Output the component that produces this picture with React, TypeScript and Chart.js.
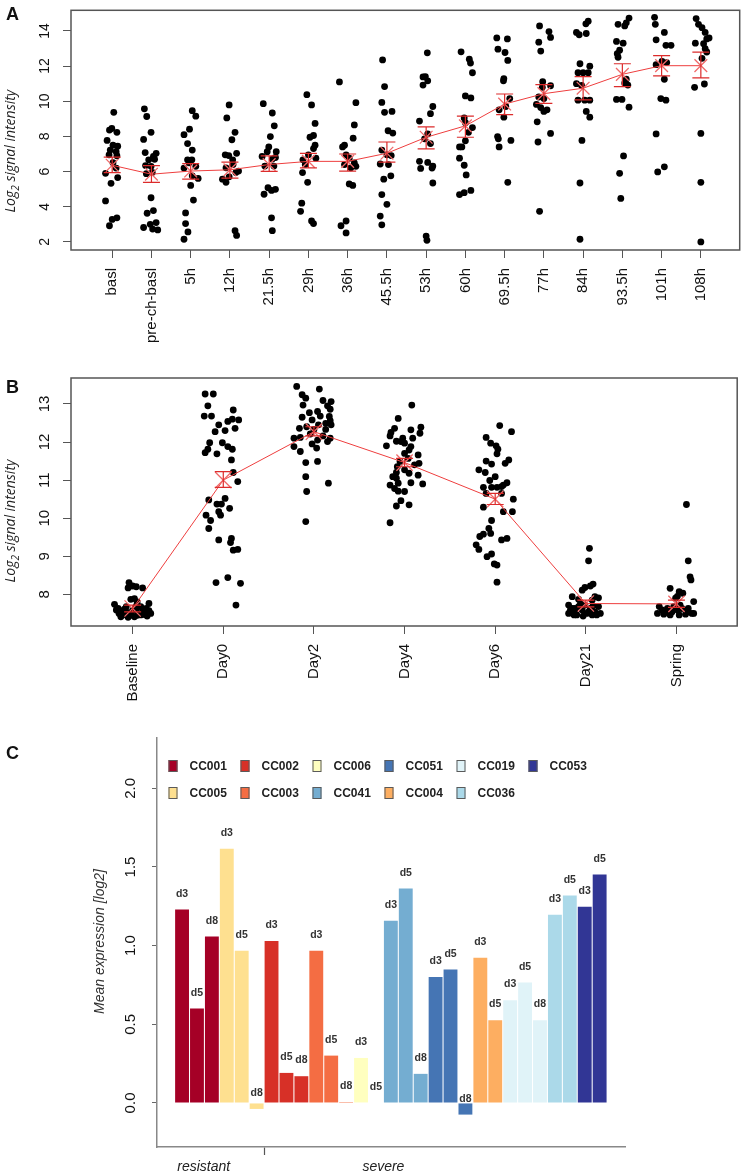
import React, { useEffect, useRef } from 'react';
import { Chart, registerables } from 'chart.js';

Chart.register(...registerables);

const FONT = '"Liberation Sans", Arial, Helvetica, sans-serif';
Chart.defaults.font.family = FONT;

// ---------------- Panel A data ----------------
const aCategories = ['basl', 'pre-ch-basl', '5h', '12h', '21.5h', '29h', '36h', '45.5h', '53h', '60h', '69.5h', '77h', '84h', '93.5h', '101h', '108h'];
const aYTicks = [2, 4, 6, 8, 10, 12, 14];
const aMeans = [6.36, 5.85, 6.03, 6.1, 6.4, 6.58, 6.58, 7.04, 7.95, 8.6, 9.84, 10.43, 10.74, 11.53, 12.02, 12.02];
const aUpper = [6.82, 6.34, 6.45, 6.54, 6.89, 7.04, 7.0, 7.68, 8.54, 9.15, 10.41, 10.94, 11.4, 12.13, 12.59, 12.79];
const aLower = [5.94, 5.39, 5.57, 5.63, 6.01, 6.21, 6.03, 6.54, 7.29, 7.95, 9.24, 9.88, 10.08, 10.83, 11.44, 11.33];
// [jitter offset, value] per sample, one list per time point
const aPoints = [
  [[0.04,9.37],[-0.07,8.36],[-0.01,8.45],[0.12,8.23],[-0.13,7.77],[0.02,7.5],[0.14,7.44],[-0.05,7.22],[0.1,7.13],[-0.08,6.95],[0.12,6.9],[0.02,6.5],[-0.17,5.9],[0.1,6.2],[-0.03,5.33],[0.14,5.66],[-0.17,4.33],[0,3.28],[-0.07,2.92],[0.12,3.37]],
  [[-0.18,9.57],[-0.12,9.13],[-0.01,8.23],[-0.2,7.83],[-0.16,7.08],[0.12,7.04],[0.05,6.86],[-0.07,6.67],[0.08,6.7],[-0.15,6.34],[-0.01,6.3],[-0.13,5.88],[0.02,5.95],[-0.01,4.51],[-0.11,3.63],[0.05,3.78],[-0.03,3.0],[0.12,3.1],[-0.2,2.82],[0.03,2.73],[0.16,2.68]],
  [[0.04,9.46],[0.13,9.15],[-0.03,8.41],[-0.17,8.1],[-0.08,7.59],[0.04,7.22],[-0.08,6.67],[0.03,6.67],[0.13,6.3],[-0.17,6.2],[-0.04,6.5],[0.04,5.76],[0.19,5.61],[0,5.21],[0.07,4.38],[-0.13,3.65],[-0.13,3.04],[-0.07,2.57],[-0.17,2.15]],
  [[-0.02,9.79],[-0.08,9.05],[0.13,8.23],[0.05,7.81],[-0.12,6.95],[-0.03,6.91],[0.17,7.04],[0.07,6.67],[-0.1,6.21],[0.08,6.4],[0.22,6.03],[0.15,5.94],[-0.19,5.57],[-0.1,5.39],[-0.02,5.7],[0.13,2.64],[0.17,2.37]],
  [[-0.15,9.86],[0.08,9.33],[0.13,8.6],[0.03,7.99],[-0.01,7.4],[-0.05,7.13],[0.18,7.13],[-0.18,6.86],[0.08,6.71],[-0.11,6.31],[0.12,6.31],[0.16,6.8],[-0.03,5.08],[0.16,4.99],[-0.13,4.71],[0.06,4.93],[0.06,3.37],[0.08,2.64]],
  [[-0.04,10.37],[0.08,9.79],[0.17,8.74],[0.04,7.95],[0.13,8.05],[0.17,7.5],[0.13,7.31],[-0.14,6.67],[0,6.95],[0.19,6.76],[-0.08,6.4],[-0.15,5.94],[-0.02,5.39],[-0.17,4.2],[-0.2,3.74],[0.08,3.19],[0.13,3.04]],
  [[-0.21,11.1],[0.21,9.92],[0.17,8.65],[0.14,7.9],[-0.08,7.5],[-0.13,7.4],[-0.04,6.95],[0.04,6.76],[0.17,6.49],[0.08,6.21],[-0.08,6.4],[0.21,6.3],[0.04,5.3],[0.13,5.21],[-0.04,3.19],[-0.17,2.92],[-0.04,2.51]],
  [[-0.11,12.35],[-0.06,10.83],[-0.13,9.93],[-0.06,9.37],[0.13,9.42],[0.03,8.32],[0.15,8.19],[-0.13,7.22],[0,6.95],[0.11,6.91],[-0.17,6.43],[0.04,6.4],[-0.08,5.57],[0.1,5.76],[-0.13,4.69],[0,4.14],[-0.17,3.47],[-0.13,2.97]],
  [[0.03,12.75],[-0.08,11.38],[-0.02,11.4],[0.04,11.16],[-0.08,10.92],[0.17,9.7],[0.11,9.29],[-0.17,8.87],[0.04,8.14],[-0.04,7.86],[0.11,7.59],[-0.17,6.58],[0.04,6.52],[0.17,6.31],[-0.14,6.18],[0.15,6.2],[0.17,5.35],[0,2.33],[0.02,2.09]],
  [[-0.11,12.81],[0.1,12.39],[0.13,12.17],[0.18,11.62],[0,10.3],[0.14,10.19],[-0.03,9.05],[0,8.78],[0.18,8.5],[0.08,8.23],[-0.15,7.4],[-0.09,7.4],[0,7.75],[-0.15,6.76],[-0.03,6.36],[0.02,5.81],[-0.15,4.69],[-0.03,4.8],[0.14,4.93]],
  [[-0.2,13.6],[0.07,13.54],[-0.17,12.96],[0.01,12.77],[0.08,12.32],[-0.02,11.29],[-0.03,11.16],[0.13,10.15],[0.03,9.7],[-0.14,9.51],[-0.02,9.09],[-0.18,7.99],[-0.16,7.86],[0.16,7.77],[-0.14,7.4],[0.08,5.39]],
  [[-0.11,14.28],[0.13,13.96],[0.17,13.63],[-0.13,13.36],[-0.08,12.85],[-0.03,11.11],[-0.04,10.79],[0.17,10.88],[-0.13,10.24],[0,10.15],[-0.19,9.82],[-0.08,9.64],[0,9.42],[0.08,9.51],[-0.17,8.83],[0.17,8.17],[-0.15,7.68],[-0.11,3.74]],
  [[0.13,14.55],[0.07,14.4],[0.08,13.85],[-0.17,13.91],[-0.1,13.78],[-0.08,12.13],[0.17,11.99],[-0.13,11.62],[0,11.62],[0.13,11.62],[-0.17,11.0],[-0.04,10.9],[-0.13,10.06],[0.04,10.06],[0.17,10.06],[0.08,9.42],[0.17,9.09],[-0.03,7.77],[-0.08,5.35],[-0.08,2.15]],
  [[0.17,14.73],[0.1,14.46],[-0.11,14.37],[0.06,14.28],[-0.15,13.4],[0.02,13.3],[-0.07,12.9],[-0.13,12.7],[-0.11,12.5],[0.1,11.25],[0.06,11.03],[0.14,10.92],[-0.15,10.1],[-0.01,10.1],[0.17,9.66],[0.03,6.89],[-0.07,5.9],[-0.04,4.47]],
  [[-0.18,14.77],[-0.16,14.37],[0.07,13.91],[-0.14,13.49],[0.11,13.18],[0.24,13.18],[-0.14,12.08],[0.01,12.26],[0.13,12.2],[0.07,11.25],[-0.02,10.15],[0.11,10.06],[-0.14,8.14],[0.07,6.27],[-0.1,5.98]],
  [[-0.12,14.7],[-0.06,14.37],[0.03,14.18],[0.11,13.91],[0.15,13.54],[0.21,13.6],[-0.14,13.3],[0.07,13.27],[0.11,12.99],[0.15,12.8],[0.03,12.44],[0.09,10.98],[-0.16,10.79],[0,8.17],[0,5.39],[0,2.0]],
];

// ---------------- Panel B data ----------------
const bCategories = ['Baseline', 'Day0', 'Day2', 'Day4', 'Day6', 'Day21', 'Spring'];
const bYTicks = [8, 9, 10, 11, 12, 13];
const bMeans = [7.63, 11.0, 12.27, 11.46, 10.5, 7.76, 7.75];
const bUpper = [7.72, 11.22, 12.4, 11.57, 10.65, 7.85, 7.85];
const bLower = [7.54, 10.81, 12.16, 11.35, 10.36, 7.67, 7.66];
const bPoints = [
  [[-0.04,8.31],[0,8.22],[-0.05,8.17],[0.04,8.2],[0.11,8.17],[0.02,7.89],[-0.02,7.87],[0.05,7.8],[-0.2,7.74],[-0.07,7.68],[0.18,7.76],[0.09,7.68],[-0.18,7.59],[-0.15,7.5],[-0.11,7.46],[-0.07,7.54],[-0.02,7.52],[0.04,7.59],[0.07,7.48],[0.15,7.54],[0.2,7.5],[-0.13,7.41],[-0.04,7.43],[0.02,7.41],[0.09,7.46],[0.16,7.43],[-0.16,7.63],[0.11,7.61],[0.04,7.69],[-0.09,7.61],[-0.05,7.4],[0.15,7.63],[-0.15,7.55],[0.05,7.45],[0,7.58],[0.13,7.47],[-0.11,7.57],[0.18,7.57]],
  [[-0.2,13.26],[-0.11,13.26],[-0.17,12.95],[-0.21,12.68],[-0.13,12.68],[-0.05,12.45],[0.05,12.54],[0.1,12.6],[0.17,12.58],[0.13,12.36],[0.11,12.84],[-0.09,12.27],[0.02,12.3],[-0.15,11.98],[-0.01,11.98],[0.05,11.88],[-0.2,11.72],[-0.17,11.81],[0.1,11.81],[-0.07,11.69],[0.09,11.53],[0.11,11.2],[0.16,10.96],[-0.16,10.48],[0.02,10.52],[-0.07,10.37],[-0.02,10.37],[0.07,10.26],[-0.05,10.17],[-0.19,10.08],[-0.03,10.08],[-0.14,9.94],[-0.16,9.73],[-0.05,9.43],[0.09,9.47],[0.08,9.36],[0.11,9.16],[0.16,9.18],[-0.08,8.31],[0.05,8.44],[0.19,8.29],[0.14,7.72]],
  [[-0.19,13.46],[0.06,13.39],[-0.13,13.24],[-0.09,13.15],[0.1,13.09],[0.19,13.06],[-0.12,12.97],[0.15,12.95],[0.18,12.86],[-0.05,12.77],[0.04,12.8],[-0.13,12.65],[0.07,12.68],[0.17,12.67],[-0.02,12.58],[0.18,12.56],[0.13,12.49],[0.05,12.45],[0.19,12.45],[-0.16,12.36],[-0.08,12.4],[0,12.33],[0.13,12.33],[-0.04,12.21],[-0.15,12.12],[-0.22,12.1],[0.1,12.16],[0.18,12.1],[0.15,12.01],[-0.22,11.88],[0.04,12.05],[-0.02,11.95],[-0.15,11.75],[0.03,11.84],[-0.09,11.46],[0.04,11.49],[-0.09,11.09],[-0.08,10.7],[0.16,10.92],[-0.09,9.91]],
  [[0.08,12.97],[-0.07,12.62],[-0.11,12.36],[0.18,12.39],[0.07,12.32],[-0.16,12.16],[0.17,12.23],[-0.02,12.1],[0.09,12.1],[-0.04,12.01],[0,11.97],[-0.09,12.02],[-0.2,11.9],[0.07,11.88],[0.05,11.79],[0,11.7],[0.15,11.66],[0.04,11.57],[-0.05,11.49],[0.16,11.44],[-0.08,11.35],[0,11.27],[0.05,11.18],[0.15,11.13],[-0.13,11.09],[-0.09,11.05],[-0.16,10.87],[-0.07,10.92],[0.07,10.93],[0.2,10.9],[-0.11,10.78],[-0.07,10.71],[0,10.7],[-0.04,10.46],[-0.09,10.32],[0.05,10.35],[-0.16,9.88],[-0.15,12.25],[-0.09,11.2],[0.11,11.4]],
  [[0.05,12.43],[0.18,12.27],[-0.1,12.12],[-0.05,11.97],[0.01,11.9],[0.03,11.81],[0.02,11.69],[-0.1,11.5],[-0.04,11.42],[0.11,11.44],[0.15,11.53],[-0.18,11.27],[-0.11,11.2],[0,11.09],[-0.06,10.99],[0.09,10.87],[0.13,10.93],[-0.13,10.81],[-0.04,10.81],[0.02,10.81],[0.07,10.83],[-0.1,10.65],[0.07,10.65],[0.2,10.5],[-0.13,10.29],[0.09,10.17],[0.19,10.17],[-0.04,9.94],[-0.07,9.73],[-0.13,9.58],[-0.05,9.6],[-0.17,9.52],[0.07,9.43],[0.13,9.47],[-0.21,9.3],[-0.18,9.18],[-0.04,9.06],[-0.09,8.99],[-0.01,8.8],[0.02,8.77],[0.02,8.32]],
  [[0.04,9.21],[0.03,8.88],[0.08,8.27],[0.05,8.22],[-0.01,8.18],[-0.04,8.11],[-0.15,7.94],[0.1,7.94],[0.14,7.91],[-0.08,7.87],[0.07,7.85],[-0.19,7.72],[-0.15,7.63],[-0.12,7.54],[-0.19,7.5],[-0.13,7.46],[-0.08,7.68],[-0.04,7.59],[0.01,7.5],[0.05,7.63],[0.1,7.54],[0.14,7.68],[0.16,7.5],[-0.17,7.59],[-0.1,7.46],[-0.01,7.72],[0.07,7.46],[0.12,7.46],[-0.03,7.43],[0.03,7.54],[-0.06,7.75],[-0.12,7.63],[0.08,7.7]],
  [[0.11,10.36],[0.13,8.88],[0.15,8.46],[0.16,8.38],[-0.07,8.16],[0.03,8.07],[0.07,8.03],[-0.01,7.9],[0.19,7.81],[0.01,7.95],[-0.19,7.68],[-0.16,7.59],[-0.1,7.63],[-0.05,7.54],[0.01,7.59],[0.06,7.63],[0.12,7.54],[0.17,7.5],[-0.21,7.5],[-0.14,7.48],[-0.07,7.46],[0.03,7.46],[0.1,7.48],[0.19,7.5],[-0.12,7.54],[-0.03,7.68],[0.04,7.72],[0.13,7.63]],
];

// ---------------- Panel C data ----------------
const cStrains = ['CC001', 'CC005', 'CC002', 'CC003', 'CC006', 'CC041', 'CC051', 'CC004', 'CC019', 'CC036', 'CC053'];
const cColors = ['#a50026', '#fee090', '#d73027', '#f46d43', '#ffffbf', '#74add1', '#4575b4', '#fdae61', '#e0f3f8', '#abd9e9', '#313695'];
const cBarStrain = [0, 0, 0, 1, 1, 1, 2, 2, 2, 3, 3, 3, 4, 4, 5, 5, 5, 6, 6, 6, 7, 7, 8, 8, 8, 9, 9, 10, 10];
const cBarDay = ['d3','d5','d8','d3','d5','d8','d3','d5','d8','d3','d5','d8','d3','d5','d3','d5','d8','d3','d5','d8','d3','d5','d3','d5','d8','d3','d5','d3','d5'];
const cValues = [1.23, 0.6, 1.058, 1.616, 0.967, -0.038, 1.029, 0.191, 0.17, 0.967, 0.301, 0.006, 0.286, 0, 1.158, 1.364, 0.185, 0.8, 0.848, -0.074, 0.923, 0.526, 0.653, 0.766, 0.526, 1.196, 1.319, 1.247, 1.453];
const cYTicks = [0, 0.5, 1, 1.5, 2];
const cGroupTickPos = [1.45, 5.5, 13.5];
const cGroupTickLabels = ['resistant', '', 'severe'];
const cBoundary = 5.5;

// ---------------- helpers ----------------
const RED_BAR = '#dc2b2b';
const RED_LINE = '#ee3e3e';
const RED_X = '#f06a6a';

function framePlugin() {
  return {
    id: 'frame',
    afterDatasetsDraw(chart: any) {
      const { ctx, chartArea: a } = chart;
      ctx.save();
      ctx.strokeStyle = '#555';
      ctx.lineWidth = 1.5;
      ctx.strokeRect(a.left, a.top, a.right - a.left, a.bottom - a.top);
      ctx.restore();
    },
  };
}

function errorBarPlugin(means: number[], upper: number[], lower: number[], cap: number) {
  return {
    id: 'errorBars',
    afterDatasetsDraw(chart: any) {
      const { ctx } = chart;
      const x = chart.scales.x;
      const y = chart.scales.y;
      ctx.save();
      ctx.strokeStyle = RED_BAR;
      ctx.lineWidth = 1.2;
      means.forEach((_m, i) => {
        const px = x.getPixelForValue(i);
        const t = y.getPixelForValue(upper[i]);
        const b = y.getPixelForValue(lower[i]);
        ctx.beginPath();
        ctx.moveTo(px, t); ctx.lineTo(px, b);
        ctx.moveTo(px - cap, t); ctx.lineTo(px + cap, t);
        ctx.moveTo(px - cap, b); ctx.lineTo(px + cap, b);
        ctx.stroke();
      });
      ctx.restore();
    },
  };
}

function logTitlePlugin(cx: number, dy: number) {
  return {
    id: 'logTitle',
    afterDraw(chart: any) {
      const { ctx, chartArea: a } = chart;
      const cy = (a.top + a.bottom) / 2 + dy;
      const main = 'italic 14px "Open Sans", "Liberation Sans", sans-serif';
      const sub = 'italic 10px "Open Sans", "Liberation Sans", sans-serif';
      ctx.save();
      ctx.translate(cx, cy);
      ctx.rotate(-Math.PI / 2);
      ctx.fillStyle = '#222';
      ctx.textBaseline = 'alphabetic';
      ctx.textAlign = 'left';
      ctx.font = main;
      const w1 = ctx.measureText('Log').width;
      const w3 = ctx.measureText(' signal intensity').width;
      ctx.font = sub;
      const w2 = ctx.measureText('2').width;
      const x0 = -(w1 + w2 + w3) / 2;
      ctx.font = main;
      ctx.fillText('Log', x0, 5);
      ctx.font = sub;
      ctx.fillText('2', x0 + w1, 9);
      ctx.font = main;
      ctx.fillText(' signal intensity', x0 + w1 + w2, 5);
      ctx.restore();
    },
  };
}

function scatterConfig(opts: any) {
  const { cats, yTicks, means, upper, lower, points, xMin, xMax, yMin, yMax, padTop, padRight, xHeight, xRadius, tickFont, titleDy } = opts;
  const pts = points.flatMap((grp: number[][], g: number) => grp.map(([dx, v]) => ({ x: g + dx, y: v })));
  return {
    type: 'scatter',
    data: {
      datasets: [
        {
          type: 'line',
          data: means.map((m: number, i: number) => ({ x: i, y: m })),
          borderColor: RED_LINE,
          borderWidth: 1,
          showLine: true,
          fill: false,
          tension: 0,
          pointStyle: 'crossRot',
          pointRadius: xRadius,
          pointBorderColor: RED_X,
          pointBorderWidth: 1.3,
          pointBackgroundColor: 'rgba(0,0,0,0)',
          order: 0,
        },
        {
          type: 'scatter',
          data: pts,
          backgroundColor: '#000',
          borderColor: '#000',
          borderWidth: 0,
          pointRadius: 3.4,
          order: 1,
        },
      ],
    },
    options: {
      animation: false,
      responsive: false,
      maintainAspectRatio: false,
      events: [],
      layout: { padding: { top: padTop, right: padRight, left: 0, bottom: 0 } },
      plugins: { legend: { display: false }, tooltip: { enabled: false }, title: { display: false } },
      scales: {
        x: {
          type: 'linear',
          min: xMin,
          max: xMax,
          afterBuildTicks: (s: any) => { s.ticks = cats.map((_c: string, i: number) => ({ value: i })); },
          afterFit: (s: any) => { s.height = xHeight; s.paddingLeft = 0; s.paddingRight = 0; },
          ticks: {
            autoSkip: false,
            minRotation: 90,
            maxRotation: 90,
            padding: 10,
            color: '#111',
            font: { size: 15, family: FONT },
            callback: (_v: number, i: number) => cats[i],
          },
          grid: { display: true, drawOnChartArea: false, tickLength: 8, tickColor: '#555', tickWidth: 1 },
          border: { display: false },
        },
        y: {
          type: 'linear',
          min: yMin,
          max: yMax,
          afterBuildTicks: (s: any) => { s.ticks = yTicks.map((v: number) => ({ value: v })); },
          afterFit: (s: any) => { s.width = 71; s.paddingTop = 0; s.paddingBottom = 0; },
          ticks: {
            autoSkip: false,
            minRotation: 90,
            maxRotation: 90,
            crossAlign: 'center',
            padding: 10,
            color: '#111',
            font: { size: tickFont, family: FONT },
          },
          grid: { display: true, drawOnChartArea: false, tickLength: 8, tickColor: '#555', tickWidth: 1 },
          border: { display: false },
        },
      },
    },
    plugins: [framePlugin(), errorBarPlugin(means, upper, lower, 8.5), logTitlePlugin(10, titleDy)],
  };
}

const barLabelPlugin = {
  id: 'barLabels',
  afterDatasetsDraw(chart: any) {
    const { ctx } = chart;
    const x = chart.scales.x;
    const y = chart.scales.y;
    ctx.save();
    ctx.font = `bold 10.5px ${FONT}`;
    ctx.fillStyle = '#333';
    ctx.textAlign = 'center';
    ctx.textBaseline = 'middle';
    cValues.forEach((v, i) => {
      ctx.fillText(cBarDay[i], x.getPixelForValue(i), y.getPixelForValue(v + 0.1));
    });
    ctx.restore();
  },
};

const cLegendPlugin = {
  id: 'cLegend',
  afterDraw(chart: any) {
    const { ctx, chartArea: a } = chart;
    ctx.save();
    ctx.font = `bold 12px ${FONT}`;
    ctx.textBaseline = 'middle';
    ctx.textAlign = 'left';
    cStrains.forEach((name, k) => {
      const col = Math.floor(k / 2);
      const row = k % 2;
      const bx = a.left + 11.5 + col * 72;
      const cy = a.top + 28 + row * 27;
      ctx.fillStyle = cColors[k];
      ctx.fillRect(bx, cy - 6, 9, 12);
      ctx.strokeStyle = '#5a5a5a';
      ctx.lineWidth = 1;
      ctx.strokeRect(bx + 0.5, cy - 5.5, 8, 11);
      ctx.fillStyle = '#222';
      ctx.fillText(name, bx + 21, cy + 0.5);
    });
    ctx.restore();
  },
};

const cTitlePlugin = {
  id: 'cTitle',
  afterDraw(chart: any) {
    const { ctx, chartArea: a } = chart;
    ctx.save();
    ctx.translate(a.left - 57, (a.top + a.bottom) / 2 - 1);
    ctx.rotate(-Math.PI / 2);
    ctx.font = `italic 14px ${FONT}`;
    ctx.fillStyle = '#333';
    ctx.textAlign = 'center';
    ctx.textBaseline = 'middle';
    ctx.fillText('Mean expression [log2]', 0, 0);
    ctx.restore();
  },
};

function barConfig() {
  return {
    type: 'bar',
    data: {
      datasets: [
        {
          data: cValues.map((v, i) => ({ x: i, y: v })),
          backgroundColor: cBarStrain.map((s) => cColors[s]),
          borderWidth: 0,
          barPercentage: 0.93,
          categoryPercentage: 1,
        },
      ],
    },
    options: {
      animation: false,
      responsive: false,
      maintainAspectRatio: false,
      events: [],
      layout: { padding: { top: 23, right: 125, left: 0, bottom: 0 } },
      plugins: { legend: { display: false }, tooltip: { enabled: false }, title: { display: false } },
      scales: {
        x: {
          type: 'linear',
          offset: false,
          min: -1.68,
          max: 29.7,
          afterBuildTicks: (s: any) => { s.ticks = cGroupTickPos.map((v) => ({ value: v })); },
          afterFit: (s: any) => { s.height = 26; s.paddingLeft = 0; s.paddingRight = 0; },
          ticks: {
            autoSkip: false,
            maxRotation: 0,
            minRotation: 0,
            padding: 4,
            color: '#222',
            font: { size: 14, style: 'italic', family: FONT },
            callback: (_v: number, i: number) => cGroupTickLabels[i],
          },
          grid: {
            display: true,
            offset: false,
            drawOnChartArea: false,
            tickLength: 8,
            tickWidth: 1.2,
            tickColor: (c: any) => (c.tick && Math.abs(c.tick.value - cBoundary) < 1e-6 ? '#555' : 'rgba(0,0,0,0)'),
          },
          border: { display: true, color: '#888', width: 1.5 },
        },
        y: {
          type: 'linear',
          min: -0.28,
          max: 2.32,
          afterBuildTicks: (s: any) => { s.ticks = cYTicks.map((v) => ({ value: v })); },
          afterFit: (s: any) => { s.width = 157; s.paddingTop = 0; s.paddingBottom = 0; },
          ticks: {
            autoSkip: false,
            minRotation: 90,
            maxRotation: 90,
            crossAlign: 'center',
            padding: 11,
            color: '#111',
            font: { size: 15, family: FONT },
            callback: (v: number) => Number(v).toFixed(1),
          },
          grid: { display: true, drawOnChartArea: false, tickLength: 5, tickColor: '#666', tickWidth: 1 },
          border: { display: true, color: '#888', width: 1.5 },
        },
      },
    },
    plugins: [barLabelPlugin, cLegendPlugin, cTitlePlugin],
  };
}

const panelLabel = (top: number): React.CSSProperties => ({
  position: 'absolute',
  left: 6,
  top,
  fontFamily: FONT,
  fontWeight: 'bold',
  fontSize: 18,
  lineHeight: 1,
  color: '#111',
});

export default function App() {
  const aRef = useRef<HTMLCanvasElement>(null);
  const bRef = useRef<HTMLCanvasElement>(null);
  const cRef = useRef<HTMLCanvasElement>(null);

  useEffect(() => {
    const a = new Chart(aRef.current as HTMLCanvasElement, scatterConfig({
      cats: aCategories, yTicks: aYTicks, means: aMeans, upper: aUpper, lower: aLower, points: aPoints,
      xMin: -1.05, xMax: 15.99, yMin: 1.54, yMax: 15.17, padTop: 2, padRight: 3, xHeight: 95, xRadius: 9, tickFont: 14, titleDy: 21,
    }) as any);
    const b = new Chart(bRef.current as HTMLCanvasElement, scatterConfig({
      cats: bCategories, yTicks: bYTicks, means: bMeans, upper: bUpper, lower: bLower, points: bPoints,
      xMin: -0.68, xMax: 6.67, yMin: 7.17, yMax: 13.68, padTop: 33, padRight: 4, xHeight: 89, xRadius: 11.5, tickFont: 15, titleDy: 19,
    }) as any);
    const c = new Chart(cRef.current as HTMLCanvasElement, barConfig() as any);
    return () => { a.destroy(); b.destroy(); c.destroy(); };
  }, []);

  return (
    <div style={{ position: 'absolute', left: 0, top: 0, width: 750, height: 1173, background: '#fff', overflow: 'hidden' }}>
      <canvas ref={aRef} width={750} height={345} style={{ position: 'absolute', left: 0, top: 0, width: 750, height: 345 }} />
      <canvas ref={bRef} width={750} height={370} style={{ position: 'absolute', left: 0, top: 345, width: 750, height: 370 }} />
      <canvas ref={cRef} width={750} height={458} style={{ position: 'absolute', left: 0, top: 715, width: 750, height: 458 }} />
      <div style={panelLabel(4.5)}>A</div>
      <div style={panelLabel(377.5)}>B</div>
      <div style={panelLabel(743.5)}>C</div>
    </div>
  );
}
